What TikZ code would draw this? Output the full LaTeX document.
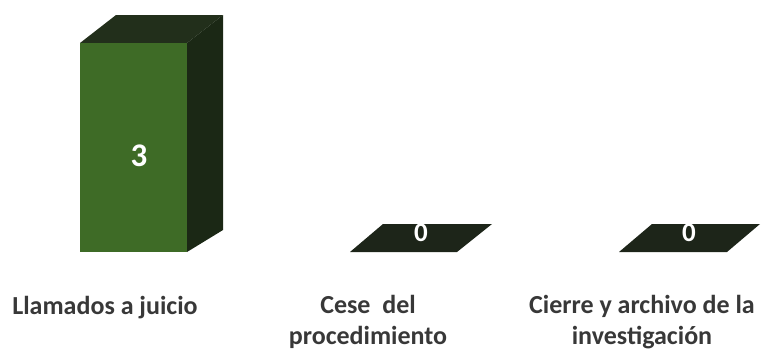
\documentclass[tikz,border=0pt]{standalone}
\usepackage{fontspec}
\setmainfont{Carlito}
\definecolor{barfront}{HTML}{3E6B26}
\definecolor{barside}{HTML}{1B2815}
\definecolor{bartop}{HTML}{222F1B}
\definecolor{flatbar}{HTML}{1D2519}
\definecolor{labelgray}{HTML}{383838}
\begin{document}
\begin{tikzpicture}[x=1pt, y=-1pt,
                    facefront/.style = {fill=barfront},
                    faceside/.style = {fill=barside},
                    facetop/.style = {fill=bartop},
                    faceflat/.style = {fill=flatbar},
                    barvalue/.style = {text=white, font=\bfseries\fontsize{33}{33}\selectfont},
                    catlabel/.style = {text=labelgray, align=center, anchor=base,
                        font=\bfseries\fontsize{26}{31}\selectfont}]
        \useasboundingbox (0,0) rectangle (761,351);

        % Llamados a juicio
        \fill[facetop] (80,43) -- (116,15) -- (223,15) -- (187,43) -- cycle;
        \fill[faceside] (187,43) -- (223,15) -- (223,230) -- (187,252) -- cycle;
        \fill[facefront] (80,43) rectangle (187,252);
        \node[barvalue] (v1) at (139,156) {3};

        % Cese del procedimiento
        \fill[faceflat] (350,252) -- (457,252) -- (492,224) -- (383,224) -- cycle;
        \node[barvalue, anchor=base, font=\bfseries\fontsize{27}{27}\selectfont] (v2) at (421,241) {0};

        % Cierre y archivo
        \fill[faceflat] (619,252) -- (727,252) -- (760,224) -- (652,224) -- cycle;
        \node[barvalue, anchor=base, font=\bfseries\fontsize{27}{27}\selectfont] (v3) at (689,241) {0};

        \node[catlabel] (c1) at (105,314) {Llamados a juicio};
        \node[catlabel] (c2) at (368,344) {Cese\ \ del\\procedimiento};
        \node[catlabel] (c3) at (642,344) {Cierre y archivo de la\\investigación};

\end{tikzpicture}
\end{document}
